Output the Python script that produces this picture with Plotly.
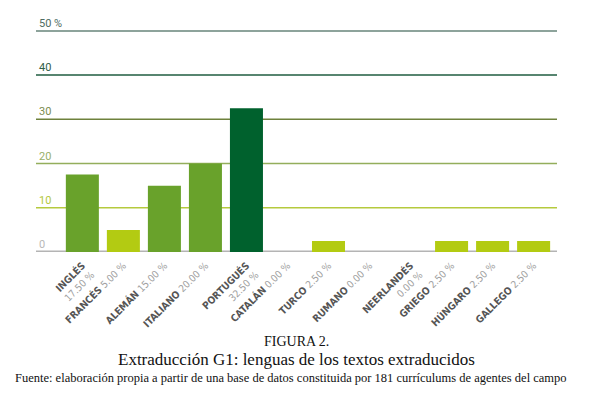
import plotly.graph_objects as go

categories = ["INGLÉS", "FRANCÉS", "ALEMÁN", "ITALIANO", "PORTUGUÉS", "CATALÁN",
              "TURCO", "RUMANO", "NEERLANDÉS", "GRIEGO", "HÚNGARO", "GALLEGO"]
values = [17.5, 5.0, 15.0, 20.0, 32.5, 0.0, 2.5, 0.0, 0.0, 2.5, 2.5, 2.5]
two_line = [True, False, False, False, True, False, False, False, True, False, False, False]
bar_colors = ["#69a22b", "#b3cb12", "#69a22b", "#69a22b", "#00612d", "#b3cb12",
              "#b3cb12", "#b3cb12", "#b3cb12", "#b3cb12", "#b3cb12", "#b3cb12"]

y_ticks = [0, 10, 20, 30, 40, 50]
y_tick_text = ["0", "10", "20", "30", "40", "50 %"]
grid_colors = ["#b4b4b4", "#b5ca3e", "#94ae5c", "#6e813c", "#1f5c40", "#67857a"]
label_colors = ["#b8b8b8", "#b3c83c", "#98b06a", "#7b8c4e", "#2f5d48", "#4f6c62"]

xt = []
for c, v, t in zip(categories, values, two_line):
    sep = "<br>" if t else " "
    xt.append("<b>%s</b>%s<span style='color:#a0a0a0'>%.2f %%</span>" % (c, sep, v))

fig = go.Figure()
fig.add_trace(go.Bar(x=list(range(len(categories))), y=values,
                     marker=dict(color=bar_colors, line=dict(width=0)),
                     hoverinfo="skip"))

for v, col in zip(y_ticks, grid_colors):
    fig.add_shape(type="line", xref="paper", yref="y", x0=0, x1=1, y0=v, y1=v,
                  line=dict(color=col, width=3 if v == 0 else 1.5), layer="below")

# the page body adds an 8px offset, so the figure is sized 8px smaller
fig.update_layout(
    width=583, height=389,
    margin=dict(l=28, r=34, t=3.1, b=144.7),
    paper_bgcolor="white", plot_bgcolor="white",
    bargap=0.195, showlegend=False,
    xaxis=dict(range=[-1.13, 11.57], tickmode="array", automargin=False,
               tickvals=list(range(len(categories))), ticktext=xt,
               tickangle=-45, showgrid=False, zeroline=False, showline=False,
               ticks="outside", ticklen=3, tickcolor="rgba(0,0,0,0)",
               tickfont=dict(family="DejaVu Sans Condensed, Roboto", size=10, color="#555555")),
    yaxis=dict(range=[0, 54.5], tickmode="array", tickvals=y_ticks, automargin=False,
               ticktext=["<span style='color:%s'>%s</span>" % (c, t) for c, t in zip(label_colors, y_tick_text)],
               ticklabelposition="inside top", showgrid=False, zeroline=False,
               showline=False, tickfont=dict(family="Roboto", size=11)),
    font=dict(family="Roboto"),
)

serif = "Liberation Serif"
fig.add_annotation(text="FIGURA 2.", xref="paper", yref="paper", x=0.5, y=-0.372,
                   xanchor="center", yanchor="middle", showarrow=False,
                   font=dict(family=serif, size=14, color="#111111"))
fig.add_annotation(text="Extraducción G1: lenguas de los textos extraducidos", xref="paper", yref="paper",
                   x=0.5, y=-0.446, xanchor="center", yanchor="middle", showarrow=False,
                   font=dict(family=serif, size=17, color="#111111"))
fig.add_annotation(text="Fuente: elaboración propia a partir de una base de datos constituida por 181 currículums de agentes del campo",
                   xref="paper", yref="paper", x=0.49, y=-0.521, xanchor="center", yanchor="middle", showarrow=False,
                   font=dict(family=serif, size=12.5, color="#111111"))

fig.write_html("out.html")
